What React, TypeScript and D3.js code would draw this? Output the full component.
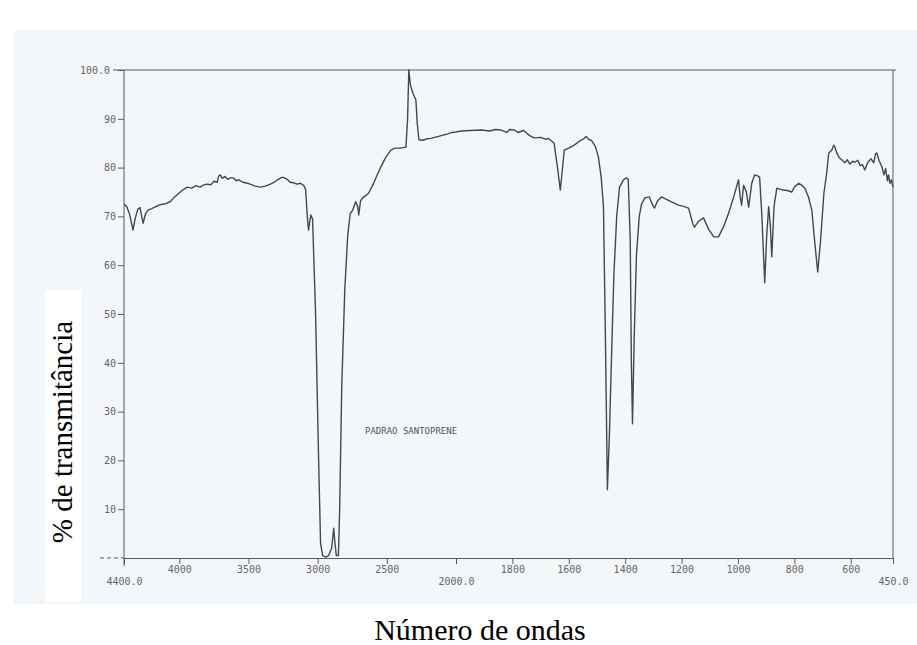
import React, { useEffect, useRef } from 'react';
import * as d3 from 'd3';

// wavenumber (cm-1)
const wavenumbers = [
  4400, 4380, 4360, 4345, 4335, 4320, 4300, 4284, 4272, 4262, 4245, 4226, 4200, 4170, 4140, 4100,
  4066, 4040, 4010, 3980, 3943, 3910, 3880, 3850, 3827, 3800, 3770, 3750, 3726, 3715, 3704, 3690,
  3670, 3650, 3630, 3610, 3590, 3570, 3540, 3508, 3480, 3450, 3414, 3380, 3350, 3319, 3290, 3260,
  3247, 3220, 3200, 3175, 3150, 3124, 3100, 3087, 3075, 3066, 3050, 3037, 3015, 2993, 2979, 2964,
  2940, 2921, 2899, 2884, 2875, 2865, 2850, 2841, 2826, 2804, 2783, 2765, 2747, 2725, 2710, 2703,
  2690, 2674, 2650, 2631, 2600, 2570, 2544, 2510, 2471, 2440, 2400, 2362, 2350, 2341, 2330, 2312,
  2300, 2290, 2280, 2268, 2240, 2210, 2181, 2140, 2100, 2060, 2030, 2000, 1982, 1950, 1911, 1880,
  1860, 1840, 1820, 1810, 1794, 1780, 1760, 1740, 1723, 1700, 1680, 1673, 1660, 1652, 1640, 1630,
  1622, 1616, 1600, 1581, 1560, 1545, 1538, 1530, 1520, 1513, 1505, 1495, 1485, 1477, 1470, 1463,
  1456, 1449, 1440, 1430, 1420, 1406, 1395, 1389, 1382, 1378, 1374, 1368, 1360, 1350, 1342, 1330,
  1314, 1305, 1296, 1285, 1271, 1250, 1230, 1211, 1190, 1175, 1160, 1154, 1140, 1122, 1105, 1086,
  1069, 1050, 1033, 1015, 998, 992, 987, 980, 970, 962, 955, 951, 941, 930, 923, 915,
  905, 898, 891, 885, 880, 872, 862, 840, 825, 809, 800, 784, 770, 763, 750, 738,
  728, 717, 707, 695, 685, 678, 668, 660, 656, 648, 640, 630, 621, 612, 603, 594,
  585, 575, 566, 558, 550, 540, 528, 518, 512, 507, 500, 494, 489, 482, 476, 470,
  466, 461, 456, 450
];

// % transmittance at each wavenumber
const transmittance = [
  72.5, 72.0, 70.5, 68.5, 67.2, 69.5, 71.5, 71.8, 70.0, 68.6, 70.5, 71.3, 71.6, 72.0, 72.4, 72.6,
  73.0, 73.8, 74.6, 75.3, 76.0, 75.8, 76.3, 76.0, 76.4, 76.6, 76.5, 77.2, 77.0, 78.3, 78.5, 77.8,
  78.2, 77.6, 77.9, 77.9, 77.3, 77.5, 77.0, 76.8, 76.5, 76.2, 76.0, 76.2, 76.5, 76.9, 77.5, 78.0,
  78.0, 77.6, 77.0, 76.9, 76.6, 76.8, 76.3, 75.5, 70.0, 67.2, 70.3, 69.5, 50.0, 20.0, 3.0, 0.5,
  0.2, 0.5, 2.0, 6.1, 3.0, 0.5, 0.5, 10.0, 35.0, 55.0, 66.0, 70.5, 71.3, 73.0, 72.0, 70.3,
  73.2, 73.8, 74.3, 74.8, 76.5, 78.5, 80.1, 82.0, 83.6, 84.0, 84.0, 84.2, 90.0, 100.0, 97.0, 95.3,
  94.5, 93.9, 89.0, 85.7, 85.6, 85.9, 86.0, 86.3, 86.6, 86.9, 87.2, 87.3, 87.5, 87.6, 87.7, 87.5,
  87.8, 87.7, 87.2, 87.8, 87.7, 87.2, 87.6, 86.6, 86.1, 86.2, 85.8, 86.0, 85.4, 85.0, 80.0, 75.4,
  80.0, 83.6, 84.0, 84.6, 85.5, 86.0, 86.4, 85.8, 85.6, 85.0, 84.2, 82.2, 78.0, 72.0, 45.0, 14.0,
  25.0, 40.0, 58.0, 70.0, 76.0, 77.5, 77.9, 77.5, 65.0, 40.0, 27.5, 45.0, 62.0, 70.0, 72.5, 73.8,
  74.0, 72.6, 71.7, 73.2, 74.0, 73.4, 72.8, 72.3, 72.0, 71.7, 68.5, 67.8, 69.0, 69.7, 67.5, 65.8,
  65.8, 68.0, 70.7, 74.0, 77.5, 74.0, 72.3, 76.4, 75.0, 71.9, 75.0, 76.8, 78.5, 78.3, 78.0, 70.0,
  56.4, 66.0, 72.0, 68.0, 61.7, 72.0, 75.8, 75.4, 75.3, 75.0, 76.0, 76.8, 76.2, 75.8, 74.0, 71.3,
  65.0, 58.6, 65.0, 74.8, 79.0, 83.0, 83.5, 84.6, 84.2, 82.8, 82.0, 81.5, 81.0, 81.6, 80.7, 81.3,
  81.1, 81.5, 80.4, 80.6, 79.5, 81.0, 81.8, 81.0, 82.8, 83.0, 81.5, 80.8, 80.1, 78.5, 79.8, 77.3,
  78.5, 76.8, 77.5, 76.0
];

const xTicks = [4400, 4000, 3500, 3000, 2500, 2000, 1800, 1600, 1400, 1200, 1000, 800, 600, 450];
const xTickLabels = ['4400.0', '4000', '3500', '3000', '2500', '2000.0', '1800', '1600', '1400', '1200', '1000', '800', '600', '450.0'];
const yTicks = [10, 20, 30, 40, 50, 60, 70, 80, 90, 100];
const yTickLabels = ['10', '20', '30', '40', '50', '60', '70', '80', '90', '100.0'];

export default function App() {
  const chartRef = useRef(null);

  useEffect(() => {
    const svg = d3.select(chartRef.current);
    svg.selectAll('*').remove();

    const W = 917, H = 645;
    const left = 124, right = 893, top = 70, bottom = 558;

    // paper background
    svg.append('rect').attr('width', W).attr('height', H).attr('fill', '#ffffff');
    svg.append('rect')
      .attr('x', 14).attr('y', 30).attr('width', W - 14).attr('height', 574)
      .attr('fill', '#f4f7fa');

    // chart paper has the scale change at 2000
    const x = d3.scaleLinear().domain([4400, 2000, 450]).range([left, 456, right]);
    const y = d3.scaleLinear().domain([0, 100]).range([bottom, top]);

    const data = wavenumbers.map((w, i) => ({ w, t: transmittance[i] }));
    const ink = '#5a5a5a';

    // frame
    svg.append('line').attr('x1', 113).attr('x2', right + 3).attr('y1', top).attr('y2', top)
      .attr('stroke', ink).attr('stroke-width', 1);
    svg.append('line').attr('x1', right).attr('x2', right).attr('y1', top).attr('y2', bottom)
      .attr('stroke', ink).attr('stroke-width', 1);
    svg.append('line').attr('x1', left).attr('x2', left).attr('y1', top).attr('y2', bottom + 8)
      .attr('stroke', ink).attr('stroke-width', 1);
    svg.append('line').attr('x1', 100).attr('x2', left).attr('y1', bottom).attr('y2', bottom)
      .attr('stroke', ink).attr('stroke-width', 1).attr('stroke-dasharray', '4,3');

    // x axis
    const xAxis = svg.append('g')
      .attr('transform', `translate(0, ${bottom})`)
      .call(d3.axisBottom(x).tickValues(xTicks).tickSize(6).tickSizeOuter(0)
        .tickFormat((d, i) => xTickLabels[i]));
    xAxis.select('.domain').attr('stroke', ink);
    xAxis.selectAll('.tick line').attr('stroke', ink);
    xAxis.selectAll('.tick text')
      .attr('font-family', 'DejaVu Sans Mono').attr('font-size', 10).attr('fill', '#666')
      .attr('y', (d) => (d === 4400 || d === 2000 || d === 450 ? 20 : 8));

    // y axis
    const yAxis = svg.append('g')
      .attr('transform', `translate(${left}, 0)`)
      .call(d3.axisLeft(y).tickValues(yTicks).tickSize(6).tickSizeOuter(0)
        .tickFormat((d, i) => yTickLabels[i]));
    yAxis.select('.domain').remove();
    yAxis.selectAll('.tick line').attr('stroke', ink);
    yAxis.selectAll('.tick text')
      .attr('font-family', 'DejaVu Sans Mono').attr('font-size', 10).attr('fill', '#666')
      .attr('x', (d) => (d === 100 ? -14 : -8));

    // spectrum
    const line = d3.line()
      .x(d => x(d.w))
      .y(d => y(d.t));

    svg.append('path')
      .datum(data)
      .attr('fill', 'none')
      .attr('stroke', '#474747')
      .attr('stroke-width', 1.4)
      .attr('stroke-linejoin', 'round')
      .attr('d', line);

    svg.append('text')
      .attr('x', 365).attr('y', 434)
      .attr('font-family', 'DejaVu Sans Mono').attr('font-size', 9).attr('fill', '#555')
      .text('PADRAO SANTOPRENE');

    // axis titles (white label boxes pasted over the scan)
    svg.append('rect').attr('x', 45).attr('y', 290).attr('width', 36).attr('height', 312).attr('fill', '#ffffff');
    svg.append('rect').attr('x', 0).attr('y', 604).attr('width', W).attr('height', 41).attr('fill', '#ffffff');

    svg.append('text')
      .attr('transform', 'translate(72, 432) rotate(-90)')
      .attr('text-anchor', 'middle')
      .attr('font-family', 'Liberation Serif').attr('font-size', 29).attr('fill', '#000')
      .text('% de transmitância');

    svg.append('text')
      .attr('x', 480).attr('y', 640)
      .attr('text-anchor', 'middle')
      .attr('font-family', 'Liberation Serif').attr('font-size', 30).attr('fill', '#000')
      .text('Número de ondas');
  }, []);

  return (
    <svg ref={chartRef} width={917} height={645}
      style={{ position: 'absolute', left: 0, top: 0, display: 'block' }} />
  );
}
